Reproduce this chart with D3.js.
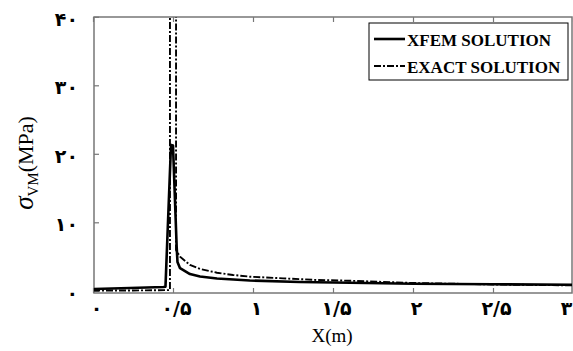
<!DOCTYPE html>
<html>
<head>
<meta charset="utf-8">
<script src="https://cdn.jsdelivr.net/npm/d3@7"></script>
<style>
  body { margin: 0; background: #fff; }
  svg { display: block; }
  .tick text { font-family: "DejaVu Sans", sans-serif; font-weight: bold; font-size: 19px; fill: #000; }
  .tick line { stroke: #777; stroke-width: 1.2; }
</style>
</head>
<body>
<svg id="chart"></svg>
<script>
// x ticks and their Persian labels
const xTicks = [0, 0.5, 1, 1.5, 2, 2.5, 3];
const xTickLabels = ["۰", "۰/۵", "۱", "۱/۵", "۲", "۲/۵", "۳"];
const yTicks = [0, 10, 20, 30, 40];
const yTickLabels = ["۰", "۱۰", "۲۰", "۳۰", "۴۰"];

// XFEM solution
const xfemX = [0, 0.23, 0.44, 0.453, 0.4875, 0.5, 0.523, 0.528, 0.544, 0.606, 0.669, 0.775, 0.98, 1.29, 1.606, 2.0, 2.5, 3.0];
const xfemY = [0.26, 0.4, 0.55, 0.6, 21.3, 21.2, 6.4, 4.2, 3.3, 2.45, 2.09, 1.8, 1.5, 1.28, 1.17, 1.02, 0.95, 0.89];

// exact solution, singular at the crack tip
const exactX = [0, 0.25, 0.481, 0.481, 0.519, 0.519, 0.544, 0.606, 0.669, 0.775, 0.875, 0.981, 1.1875, 1.4, 1.606, 2.0, 2.5, 3.0];
const exactY = [0.05, 0.05, 0.1, 60, 60, 5.96, 4.98, 3.77, 3.18, 2.64, 2.31, 2.06, 1.82, 1.58, 1.47, 1.14, 0.92, 0.8];

const legendLabels = ["XFEM SOLUTION", "EXACT SOLUTION"];

const width = 573, height = 351;
const svg = d3.select("#chart").attr("width", width).attr("height", height);

const x = d3.scaleLinear().domain([0, 3]).range([93, 573]);
const y = d3.scaleLinear().domain([0, 40]).range([290.8, 16.8]);

const plot = { left: 94, right: 572, top: 17, bottom: 293 };

svg.append("defs").append("clipPath").attr("id", "clip")
  .append("rect")
  .attr("x", plot.left).attr("y", plot.top)
  .attr("width", plot.right - plot.left).attr("height", plot.bottom - plot.top);

// frame
svg.append("rect")
  .attr("x", plot.left).attr("y", plot.top)
  .attr("width", plot.right - plot.left).attr("height", plot.bottom - plot.top)
  .attr("fill", "none").attr("stroke", "#777").attr("stroke-width", 1.5);

// axes with inward ticks
const xAxis = svg.append("g")
  .attr("transform", `translate(0,${plot.bottom})`)
  .call(d3.axisBottom(x).tickValues(xTicks).tickSize(-5).tickPadding(9)
    .tickFormat((d, i) => xTickLabels[i]));
xAxis.select(".domain").remove();
xAxis.selectAll(".tick text").attr("dx", 3);
xAxis.selectAll(".tick text").filter((d) => d === 3).attr("dx", -7);

svg.append("g")
  .attr("transform", `translate(0,${plot.top})`)
  .call(d3.axisTop(x).tickValues(xTicks).tickSize(-5).tickFormat(""))
  .select(".domain").remove();

const yAxis = svg.append("g")
  .attr("transform", `translate(${plot.left},0)`)
  .call(d3.axisLeft(y).tickValues(yTicks).tickSize(-5).tickPadding(16)
    .tickFormat((d, i) => yTickLabels[i]));
yAxis.select(".domain").remove();
yAxis.selectAll(".tick text").attr("dy", "0.45em");

const line = d3.line().x((d) => x(d[0])).y((d) => y(d[1]));

const lines = svg.append("g").attr("clip-path", "url(#clip)");

lines.append("path")
  .datum(exactX.map((v, i) => [v, exactY[i]]))
  .attr("fill", "none")
  .attr("stroke", "#000")
  .attr("stroke-width", 1.9)
  .attr("stroke-dasharray", "7,2,2,2")
  .attr("d", line);

lines.append("path")
  .datum(xfemX.map((v, i) => [v, xfemY[i]]))
  .attr("fill", "none")
  .attr("stroke", "#000")
  .attr("stroke-width", 2.6)
  .attr("stroke-linejoin", "round")
  .attr("d", line);

// legend
const legend = svg.append("g");
legend.append("rect")
  .attr("x", 369).attr("y", 23).attr("width", 199).attr("height", 57)
  .attr("fill", "#fff").attr("stroke", "#000").attr("stroke-width", 1);

const legendRows = [
  { y: 39, dash: null, w: 2.6 },
  { y: 66, dash: "7,2,2,2", w: 1.9 },
];
legendRows.forEach((r, i) => {
  legend.append("line")
    .attr("x1", 374).attr("x2", 405).attr("y1", r.y).attr("y2", r.y)
    .attr("stroke", "#000").attr("stroke-width", r.w)
    .attr("stroke-dasharray", r.dash);
  legend.append("text")
    .attr("x", 407).attr("y", r.y + 6.5)
    .style("font-family", "'Liberation Serif', serif")
    .style("font-weight", "bold").style("font-size", "17px")
    .text(legendLabels[i]);
});

// axis titles
svg.append("text")
  .attr("x", 332).attr("y", 342)
  .attr("text-anchor", "middle")
  .style("font-family", "'Liberation Serif', serif")
  .style("font-size", "19px")
  .text("X(m)");

const yt = svg.append("text")
  .attr("transform", "translate(33,163) rotate(-90)")
  .attr("text-anchor", "middle")
  .style("font-family", "'Liberation Serif', serif")
  .style("font-size", "22px");
yt.append("tspan").style("font-style", "italic").style("font-size", "27px").text("σ");
yt.append("tspan").attr("dy", 5).style("font-size", "15px").text("VM");
yt.append("tspan").attr("dy", -5).text("(MPa)");
</script>
</body>
</html>
